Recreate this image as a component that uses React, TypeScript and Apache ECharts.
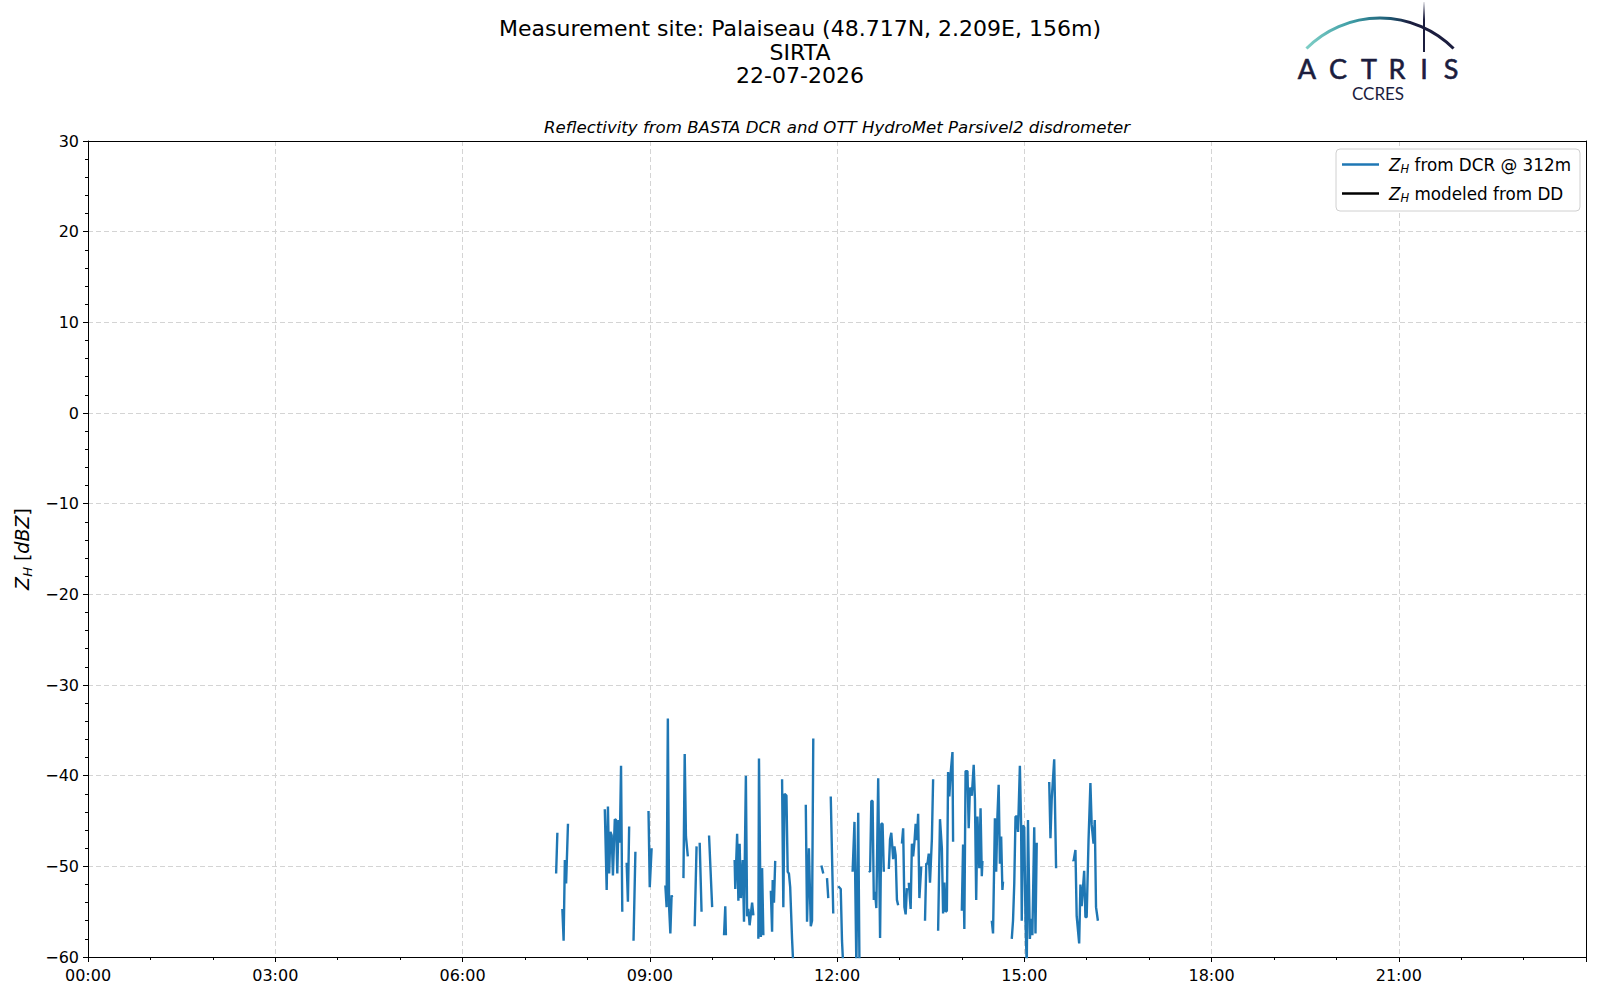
import React, { useEffect, useRef } from "react";
import * as echarts from "echarts";

// Time in decimal hours (UTC) and reflectivity values in dBZ; null = gap in data
const times: number[] = [
  7.50, 7.52, 7.55,
  7.60, 7.62, 7.64, 7.66, 7.69, 8.0,
  8.28, 8.31, 8.33, 8.35, 8.37, 8.39, 8.41, 8.44, 8.46, 8.48, 8.50, 8.52, 8.54, 8.56, 8.60,
  8.63, 8.65, 8.67, 8.70,
  8.74, 8.77, 8.90,
  8.98, 9.00, 9.03, 9.15,
  9.25, 9.27, 9.29, 9.31, 9.33, 9.35, 9.36, 9.45,
  9.54, 9.56, 9.58, 9.61, 9.66,
  9.72, 9.75, 9.78,
  9.80, 9.83, 9.90,
  9.95, 10.00, 10.10,
  10.19, 10.21, 10.22, 10.30,
  10.36, 10.37, 10.40, 10.42, 10.44, 10.46, 10.49, 10.51, 10.54, 10.56, 10.58, 10.60, 10.64, 10.66, 10.70,
  10.74, 10.75, 10.78, 10.80, 10.82, 10.88,
  10.94, 10.96, 10.97, 10.99, 11.01, 11.06,
  11.12, 11.14, 11.16, 11.19, 11.21, 11.23, 11.25, 11.28, 11.30, 11.40,
  11.50, 11.52, 11.55, 11.58, 11.60, 11.62, 11.70,
  11.75, 11.78, 11.81,
  11.84, 11.86, 11.88,
  11.90, 11.94, 11.98,
  12.02, 12.06, 12.08, 12.10, 12.18,
  12.25, 12.28, 12.31, 12.34, 12.36, 12.45,
  12.51, 12.53, 12.55, 12.57, 12.59, 12.61, 12.63, 12.66, 12.69, 12.71, 12.73, 12.75, 12.79,
  12.83, 12.85, 12.87, 12.90, 12.92, 12.94, 12.96, 12.98, 13.01,
  13.04, 13.06, 13.08, 13.10, 13.12, 13.135,
  13.15, 13.18, 13.20, 13.22, 13.24, 13.26, 13.28, 13.30, 13.32, 13.35, 13.38,
  13.41, 13.43, 13.45, 13.47, 13.49, 13.52, 13.54, 13.58,
  13.62, 13.65, 13.68, 13.70, 13.72, 13.74, 13.76, 13.78, 13.80, 13.82, 13.85, 13.86, 13.93,
  14.00, 14.02, 14.04, 14.06, 14.09, 14.11, 14.13, 14.16, 14.19, 14.21, 14.23, 14.25, 14.28, 14.30, 14.32, 14.33, 14.40,
  14.48, 14.50, 14.53, 14.55, 14.57, 14.59, 14.61, 14.63, 14.65, 14.66, 14.73,
  14.80, 14.82, 14.84, 14.86, 14.88, 14.90, 14.93, 14.95, 14.96, 14.98, 15.00, 15.02, 15.04, 15.06, 15.09, 15.11, 15.13, 15.16, 15.18, 15.20, 15.30,
  15.40, 15.42, 15.44, 15.48, 15.51, 15.65,
  15.78, 15.79, 15.82, 15.84, 15.88, 15.90, 15.92, 15.96, 15.98, 16.00, 16.03, 16.06, 16.08, 16.11, 16.13, 16.15, 16.18,
];

const zhDcr: (number | null)[] = [
  -50.8, -46.3, null,
  -54.7, -58.2, -49.3, -51.9, -45.3, null,
  -43.7, -52.6, -43.4, -50.8, -46.2, -46.6, -51.0, -44.8, -44.9, -50.8, -44.9, -47.4, -38.9, -55.0, null,
  -49.6, -53.9, -45.6, null,
  -58.2, -48.4, null,
  -43.9, -52.3, -48.0, null,
  -52.1, -54.5, -33.7, -54.5, -57.4, -53.2, -53.4, null,
  -51.3, -37.6, -46.7, -48.9, null,
  -56.6, -47.8, null,
  -47.4, -55.0, null,
  -46.6, -54.5, null,
  -57.6, -54.4, -57.6, null,
  -49.3, -52.5, -46.4, -53.8, -47.5, -53.5, -49.3, -56.1, -40.0, -55.5, -54.7, -56.5, -54.0, -55.4, null,
  -58.0, -38.1, -57.8, -50.2, -57.6, null,
  -52.7, -57.2, -51.5, -54.0, -49.4, null,
  -40.4, -54.5, -42.0, -42.2, -50.6, -50.8, -52.3, -58.0, -61.0, null,
  -43.2, -56.1, -48.0, -56.6, -56.0, -35.9, null,
  -49.9, -50.8, null,
  -51.3, -53.5, null,
  -42.3, -55.2, null,
  -52.2, -52.5, -58.2, -61.0, null,
  -50.6, -45.1, -61.0, -44.1, -61.0, null,
  -50.5, -50.6, -42.8, -42.8, -53.7, -52.8, -54.6, -40.3, -57.9, -45.3, -45.3, -50.6, null,
  -50.3, -47.0, -46.3, -49.2, -47.8, -48.8, -53.7, -54.3, null,
  -47.5, -45.8, -54.5, -55.3, -52.4, null,
  -51.8, -54.7, -47.5, -48.9, -47.4, -45.3, -47.1, -44.2, -53.5, -50.0, null,
  -56.0, -49.7, -49.7, -48.6, -51.8, -47.0, -40.4, null,
  -57.1, -44.8, -48.0, -55.2, -51.8, -55.0, -54.9, -39.6, -42.3, -39.8, -37.4, -47.3, null,
  -54.9, -47.6, -56.9, -39.5, -39.5, -45.8, -41.3, -42.2, -38.8, -42.6, -53.7, -44.5, -50.2, -43.6, -51.1, -49.4, null,
  -56.0, -57.4, -44.7, -50.6, -44.5, -41.0, -49.7, -46.7, -52.6, -51.7, null,
  -58.0, -56.0, -51.9, -44.5, -44.5, -46.2, -38.9, -45.5, -56.0, -45.5, -45.7, -56.0, -61.0, -44.9, -58.0, -55.8, -57.6, -45.7, -57.4, -47.4, null,
  -40.7, -46.9, -42.6, -38.2, -50.2, null,
  -49.3, -49.4, -48.2, -55.5, -58.5, -52.0, -54.4, -50.5, -55.6, -55.6, -47.1, -40.8, -45.4, -47.5, -44.9, -54.5, -56.0,
];

// Disdrometer-modelled reflectivity: no data on this day
const zhDd: (number | null)[] = [];

const xTickHours: number[] = [0, 3, 6, 9, 12, 15, 18, 21, 24];
const yTicks: number[] = [-60, -50, -40, -30, -20, -10, 0, 10, 20, 30];

const titleLines: string[] = [
  "Measurement site: Palaiseau (48.717N, 2.209E, 156m)",
  "SIRTA",
  "22-07-2026",
];
const subtitle = "Reflectivity from BASTA DCR and OTT HydroMet Parsivel2 disdrometer";
const legendNames: Record<string, string> = {
  dcr: "{i|Z}{s|H} from DCR @ 312m",
  dd: "{i|Z}{s|H} modeled from DD",
};
const logoLetters: string[] = ["A", "C", "T", "R", "I", "S"];

const FONT = "DejaVu Sans";

export default function App() {
  const ref = useRef<HTMLDivElement>(null);

  useEffect(() => {
    if (!ref.current) return;
    const chart = echarts.init(ref.current, null, { renderer: "svg" });

    const dcrData = times.map((t, i) => [t, zhDcr[i] == null ? "-" : zhDcr[i]]);
    const ddData = zhDd.map((v, i) => [times[i], v == null ? "-" : v]);

    const letterX = [1307, 1338, 1369, 1397, 1424, 1451];
    const navy = "#1b1d3e";
    const xMin = xTickHours[0];
    const xMax = xTickHours[xTickHours.length - 1];
    const yMin = yTicks[0];
    const yMax = yTicks[yTicks.length - 1];
    const spine = { show: true, onZero: false, lineStyle: { color: "#000", width: 1 } };

    const option: any = {
      animation: false,
      backgroundColor: "#ffffff",
      textStyle: { fontFamily: FONT },
      title: {
        text: titleLines.join("\n"),
        left: "center",
        top: 17,
        padding: 0,
        textStyle: {
          fontFamily: FONT,
          fontSize: 22,
          fontWeight: "normal",
          color: "#000",
          lineHeight: 23.5,
        },
      },
      grid: {
        left: 88,
        right: 14,
        top: 141,
        bottom: 43,
      },
      legend: {
        right: 20,
        top: 149,
        orient: "vertical",
        backgroundColor: "#fff",
        borderColor: "#d0d0d0",
        borderWidth: 1,
        borderRadius: 4,
        padding: [7, 9, 7, 6],
        itemGap: 10,
        itemWidth: 37,
        itemHeight: 2.5,
        icon: "rect",
        formatter: (name: string) => legendNames[name] || name,
        textStyle: {
          fontFamily: FONT,
          fontSize: 16.8,
          color: "#000",
          padding: [0, 0, 0, 5],
          rich: {
            i: { fontFamily: FONT, fontSize: 16.8, fontStyle: "italic", color: "#000", lineHeight: 21 },
            s: {
              fontFamily: FONT,
              fontSize: 11.5,
              fontStyle: "italic",
              color: "#000",
              verticalAlign: "bottom",
              lineHeight: 21,
              padding: [6, 0, 0, 0],
            },
          },
        },
        data: ["dcr", "dd"],
      },
      xAxis: [
        {
          type: "value",
          min: xMin,
          max: xMax,
          interval: 3,
          axisLine: spine,
          axisTick: { show: true, length: 5, lineStyle: { color: "#000", width: 1 } },
          minorTick: { show: true, splitNumber: 3, length: 3, lineStyle: { color: "#000", width: 1 } },
          axisLabel: {
            margin: 10,
            fontFamily: FONT,
            fontSize: 16,
            color: "#000",
            formatter: (v: number) => (v >= 24 ? "" : String(v).padStart(2, "0") + ":00"),
          },
          splitLine: { show: true, lineStyle: { color: "#d4d4d4", type: [5, 3], width: 1 } },
        },
        {
          type: "value",
          position: "top",
          min: xMin,
          max: xMax,
          interval: 3,
          axisLine: spine,
          axisTick: { show: false },
          axisLabel: { show: false },
          splitLine: { show: false },
        },
      ],
      yAxis: [
        {
          type: "value",
          min: yMin,
          max: yMax,
          interval: 10,
          name: "{i|Z}{s|H} [{i|dBZ}]",
          nameLocation: "middle",
          nameGap: 52,
          nameRotate: 90,
          nameTextStyle: {
            fontFamily: FONT,
            fontSize: 19,
            color: "#000",
            rich: {
              i: { fontFamily: FONT, fontSize: 19, fontStyle: "italic", color: "#000", lineHeight: 24 },
              s: {
                fontFamily: FONT,
                fontSize: 13,
                fontStyle: "italic",
                color: "#000",
                verticalAlign: "bottom",
                lineHeight: 24,
                padding: [7, 0, 0, 0],
              },
            },
          },
          axisLine: spine,
          axisTick: { show: true, length: 5, lineStyle: { color: "#000", width: 1 } },
          minorTick: { show: true, splitNumber: 5, length: 3, lineStyle: { color: "#000", width: 1 } },
          axisLabel: {
            margin: 9,
            fontFamily: FONT,
            fontSize: 16,
            color: "#000",
            formatter: (v: number) => String(v).replace("-", "\u2212"),
          },
          splitLine: { show: true, lineStyle: { color: "#d4d4d4", type: [5, 3], width: 1 } },
        },
        {
          type: "value",
          position: "right",
          min: yMin,
          max: yMax,
          interval: 10,
          axisLine: spine,
          axisTick: { show: false },
          axisLabel: { show: false },
          splitLine: { show: false },
        },
      ],
      series: [
        {
          name: "dcr",
          type: "line",
          data: dcrData,
          showSymbol: false,
          symbol: "none",
          connectNulls: false,
          clip: true,
          color: "#1f77b4",
          lineStyle: { color: "#1f77b4", width: 2.4 },
        },
        {
          name: "dd",
          type: "line",
          data: ddData,
          showSymbol: false,
          symbol: "none",
          color: "#000000",
          lineStyle: { color: "#000000", width: 2.4 },
        },
      ],
      graphic: [
        {
          type: "text",
          x: 837,
          y: 127,
          style: {
            text: subtitle,
            fontFamily: FONT,
            fontSize: 16.6,
            fontStyle: "italic",
            fill: "#000",
            align: "center",
            verticalAlign: "middle",
          },
        },
        {
          type: "arc",
          shape: { cx: 1380, cy: 122, r: 104, startAngle: (225 * Math.PI) / 180, endAngle: (315 * Math.PI) / 180, clockwise: true },
          style: {
            fill: "none",
            lineWidth: 3,
            stroke: new echarts.graphic.LinearGradient(
              1306, 0, 1454, 0,
              [
                { offset: 0, color: "#7fcfc6" },
                { offset: 0.3, color: "#3f9ea6" },
                { offset: 0.55, color: "#1f5f78" },
                { offset: 0.7, color: navy },
                { offset: 1, color: navy },
              ],
              true
            ),
          },
        },
        {
          type: "line",
          shape: { x1: 1424, y1: 2, x2: 1424, y2: 52 },
          style: {
            lineWidth: 2,
            stroke: new echarts.graphic.LinearGradient(
              0, 2, 0, 52,
              [
                { offset: 0, color: "rgba(27,29,62,0.1)" },
                { offset: 0.35, color: navy },
                { offset: 1, color: navy },
              ],
              true
            ),
          },
        },
        ...logoLetters.map((ch, i) => ({
          type: "text",
          x: letterX[i],
          y: 68,
          style: {
            text: ch,
            fontFamily: "Lato",
            fontSize: 27,
            fontWeight: "normal",
            fill: navy,
            stroke: navy,
            lineWidth: 0.6,
            align: "center",
            verticalAlign: "middle",
          },
        })),
        {
          type: "text",
          x: 1378,
          y: 93,
          style: {
            text: "CCRES",
            fontFamily: "Lato",
            fontSize: 17,
            fill: navy,
            align: "center",
            verticalAlign: "middle",
          },
        },
      ],
    };

    chart.setOption(option);
    return () => chart.dispose();
  }, []);

  return (
    <div
      ref={ref}
      style={{ position: "fixed", left: 0, top: 0, width: "1600px", height: "1000px" }}
    />
  );
}
